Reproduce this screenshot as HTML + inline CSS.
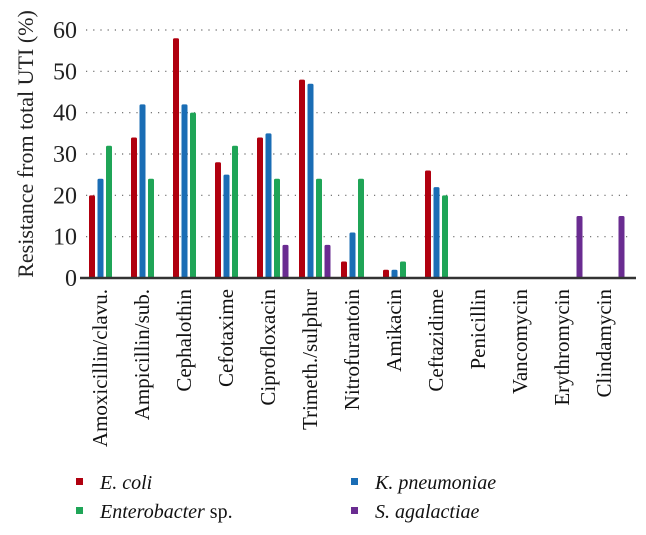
<!DOCTYPE html>
<html><head><meta charset="utf-8"><style>
body{margin:0;background:#fff;}
svg{display:block;font-family:"Liberation Serif",serif;}
</style></head><body>
<svg id="chart" width="646" height="535"></svg>
<script>
const categories=["Amoxicillin/clavu.","Ampicillin/sub.","Cephalothin","Cefotaxime","Ciprofloxacin","Trimeth./sulphur","Nitrofurantoin","Amikacin","Ceftazidime","Penicillin","Vancomycin","Erythromycin","Clindamycin"];
const ecoli=[20,34,58,28,34,48,4,2,26,0,0,0,0];
const kpneu=[24,42,42,25,35,47,11,2,22,0,0,0,0];
const entero=[32,24,40,32,24,24,24,4,20,0,0,0,0];
const sagal=[0,0,0,0,8,8,0,0,0,0,0,15,15];
const yTicks=[0,10,20,30,40,50,60];
const colors=["#b0000f","#1a6db5","#1fa557","#6a2c91"];
const NS="http://www.w3.org/2000/svg";
const svg=document.getElementById('chart');
function y(v){return 278-v*(248/60);}
function gx(i){return 92+42*i;}
function mk(t,a){const e=document.createElementNS(NS,t);for(const k in a)e.setAttribute(k,a[k]);svg.appendChild(e);return e;}
yTicks.forEach(t=>{
  if(t>0){const g=mk('line',{x1:86,x2:632,y1:y(t),y2:y(t),stroke:'#666','stroke-width':1.2,'stroke-dasharray':'1.2 6'});
  
  }
  const l=mk('text',{x:77,y:y(t)+8,'text-anchor':'end','font-size':24,fill:'#222'});l.textContent=t;
  
  
});
const yt=mk('text',{transform:'translate(33,144) rotate(-90)','text-anchor':'middle','font-size':22,fill:'#222'});
yt.textContent='Resistance from total UTI (%)';


const series=[ecoli,kpneu,entero,sagal];
const offs=[0,8.5,17,25.5];
categories.forEach((c,i)=>{
  series.forEach((s,j)=>{
    if(s[i]>0){const r=mk('rect',{x:gx(i)+offs[j]-3,y:y(s[i]),width:6,height:278-y(s[i]),fill:colors[j],rx:1.5});
    
    }
  });
  const t=mk('text',{transform:`translate(${gx(i)+15},289) rotate(-90)`,'text-anchor':'end','font-size':21,fill:'#111'});
  t.textContent=c;
  
  
});
const ax=mk('line',{x1:80,x2:636,y1:278,y2:278,stroke:'#333','stroke-width':2.5});


const leg=[[80,482,0,'E. coli',''],[355,482,1,'K. pneumoniae',''],[80,511,2,'Enterobacter',' sp.'],[355,511,3,'S. agalactiae','']];
leg.forEach(([x,yy,j,n,suf])=>{
  const s=mk('rect',{x:x-4,y:yy-4,width:7,height:7,fill:colors[j]});
  
  
  const t=mk('text',{x:x+20,y:yy+7,'font-size':20,fill:'#111'});
  
  
  const a=document.createElementNS(NS,'tspan');a.setAttribute('font-style','italic');a.textContent=n;t.appendChild(a);
  if(suf){const b=document.createElementNS(NS,'tspan');b.textContent=suf;t.appendChild(b);}
});
</script>
</body></html>
